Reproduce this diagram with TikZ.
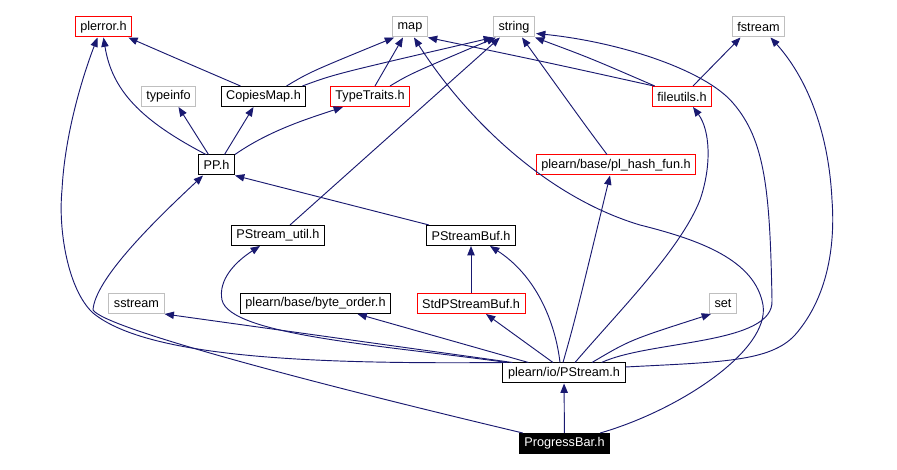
\documentclass[tikz,border=0pt]{standalone}
\usepackage{fontspec}
\setmainfont{Liberation Sans}
\usetikzlibrary{arrows.meta, calc}
\definecolor{edgeblue}{RGB}{25,25,112}
\definecolor{sysgray}{RGB}{191,191,191}

\begin{document}
\begin{tikzpicture}[x=0.75pt, y=-0.75pt,
  hdr/.style={draw, line width=0.75pt, minimum height=15pt, inner xsep=3.8pt, inner ysep=0pt,
    font=\fontsize{9.5}{11}\selectfont},
  sysbox/.style={hdr, draw=sysgray},
  docbox/.style={hdr, draw=black},
  redbox/.style={hdr, draw=red},
  selfbox/.style={hdr, draw=black, fill=black, text=white},
  dep/.style={draw=edgeblue, line width=0.7pt, -{Triangle[length=7pt, width=5.5pt]}}]
  \useasboundingbox (0,0) rectangle (897,470);

  % Headers, top row
  \node[redbox] (plerror) at (103.5,27) {plerror.h};
  \node[sysbox] (map) at (410,27) {map};
  \node[sysbox] (string) at (514,27) {string};
  \node[sysbox] (fstream) at (758.5,27) {fstream};
  % second row
  \node[sysbox] (typeinfo) at (168.5,96.5) {typeinfo};
  \node[docbox] (copiesmap) at (263.5,96.5) {CopiesMap.h};
  \node[redbox] (typetraits) at (370,96.5) {TypeTraits.h};
  \node[redbox] (fileutils) at (682,96.5) {fileutils.h};
  % third row
  \node[docbox] (pp) at (216.5,165) {PP.h};
  \node[redbox] (plhash) at (616,165) {plearn/base/pl\_hash\_fun.h};
  % fourth row
  \node[docbox] (pstreamutil) at (278,235.5) {PStream\_util.h};
  \node[docbox] (pbuf) at (471,235.5) {PStreamBuf.h};
  % fifth row
  \node[sysbox] (sstream) at (136.5,303.5) {sstream};
  \node[docbox] (byteorder) at (315.5,303.5) {plearn/base/byte\_order.h};
  \node[redbox] (stdbuf) at (471,303.5) {StdPStreamBuf.h};
  \node[sysbox] (set) at (723,303.5) {set};
  % bottom
  \node[docbox] (pstream) at (564,373) {plearn/io/PStream.h};
  \node[selfbox] (progress) at (564.5,443.5) {ProgressBar.h};

  % ProgressBar.h includes
  \draw[dep] (progress) -- (pstream);
  \draw[dep] ($(progress.north west)+(4,0)$) .. controls (300,380) and (105,328) .. (93,310)
    .. controls (95,280) and (150,225) .. ($(pp.south west)+(5,0)$);
  \draw[dep] ($(progress.north east)+(-10,0)$) .. controls (680,410) and (770,350) .. (763,305)
    .. controls (755,260) and (700,240) .. (640,225)
    .. controls (540,195) and (460,110) .. ($(map.south)+(4,0)$);

  % PStream.h includes
  \draw[dep] ($(pstream.north west)+(3,0)$) .. controls (330,364) and (150,360) .. (93,313)
    .. controls (68,290) and (58,230) .. (62,190)
    .. controls (65,130) and (85,70) .. ($(plerror.south)+(-6,0)$);
  \draw[dep] ($(pstream.north east)+(-24,0)$) .. controls (650,340) and (775,345) .. (772,300)
    .. controls (770,190) and (765,140) .. (733,103)
    .. controls (705,70) and (620,42) .. ($(string.south east)+(1,-4)$);
  \draw[dep] ($(pstream.east)+(0,-6)$) .. controls (720,362) and (770,362) .. (795,335)
    .. controls (830,295) and (835,240) .. (832,200)
    .. controls (828,120) and (800,70) .. ($(fstream.south)+(12,0)$);
  \draw[dep] ($(pstream.north)+(11,0)$) .. controls (620,310) and (680,250) .. (700,200)
    .. controls (712,165) and (710,130) .. ($(fileutils.south)+(11,0)$);
  \draw[dep] ($(pstream.north)+(-1,0)$) .. controls (575,320) .. ($(plhash.south)+(-6,0)$);
  \draw[dep] ($(pstream.north)+(-11,0)$) -- ($(stdbuf.south)+(15,0)$);
  \draw[dep] ($(pstream.north)+(-4,0)$) .. controls (555,320) and (535,275) .. ($(pbuf.south)+(19,0)$);
  \draw[dep] ($(pstream.north)+(28,0)$) .. controls (630,340) .. ($(set.south west)+(2,0)$);
  \draw[dep] ($(pstream.north west)+(26,0)$) -- ($(byteorder.south)+(42,0)$);
  \draw[dep] ($(pstream.north west)+(10,0)$) -- (sstream.south east);
  \draw[dep] ($(pstream.north west)+(5,0)$) .. controls (380,345) and (230,335) .. (222,300)
    .. controls (218,280) and (235,262) .. ($(pstreamutil.south)+(-18,0)$);

  % PP.h includes
  \draw[dep] ($(pp.north west)+(8,0)$) .. controls (140,120) and (112,90) .. (plerror.south);
  \draw[dep] ($(pp.north)+(-8,0)$) -- ($(typeinfo.south)+(10,0)$);
  \draw[dep] ($(pp.north)+(8,0)$) -- ($(copiesmap.south)+(-10,0)$);
  \draw[dep] (pp.north east) .. controls (270,130) and (310,118) .. ($(typetraits.south)+(-27,0)$);

  % second row includes
  \draw[dep] ($(copiesmap.north)+(-23,0)$) .. controls (180,60) .. ($(plerror.south east)+(-4,0)$);
  \draw[dep] ($(copiesmap.north)+(23,0)$) .. controls (310,72) .. ($(map.south west)+(2,0)$);
  \draw[dep] ($(copiesmap.north east)+(-4,0)$) .. controls (335,74) .. (string.south west);
  \draw[dep] ($(typetraits.north)+(5,0)$) -- ($(map.south)+(-7,0)$);
  \draw[dep] ($(typetraits.north)+(20,0)$) .. controls (410,74) .. ($(string.south west)+(3,0)$);
  \draw[dep] ($(fileutils.north west)+(2,0)$) .. controls (550,63) .. (map.south east);
  \draw[dep] ($(fileutils.north west)+(3,0)$) .. controls (590,58) .. (string.south east);
  \draw[dep] ($(fileutils.north)+(11,0)$) -- ($(fstream.south)+(-18,0)$);

  % middle rows
  \draw[dep] ($(pstreamutil.north)+(12,0)$) -- ($(string.south west)+(7,0)$);
  \draw[dep] ($(plhash.north)+(-9,0)$) .. controls (585,125) .. ($(string.south)+(8,0)$);
  \draw[dep] ($(pbuf.north west)+(3,0)$) -- (pp.south east);
  \draw[dep] (stdbuf) -- (pbuf);
\end{tikzpicture}
\end{document}
